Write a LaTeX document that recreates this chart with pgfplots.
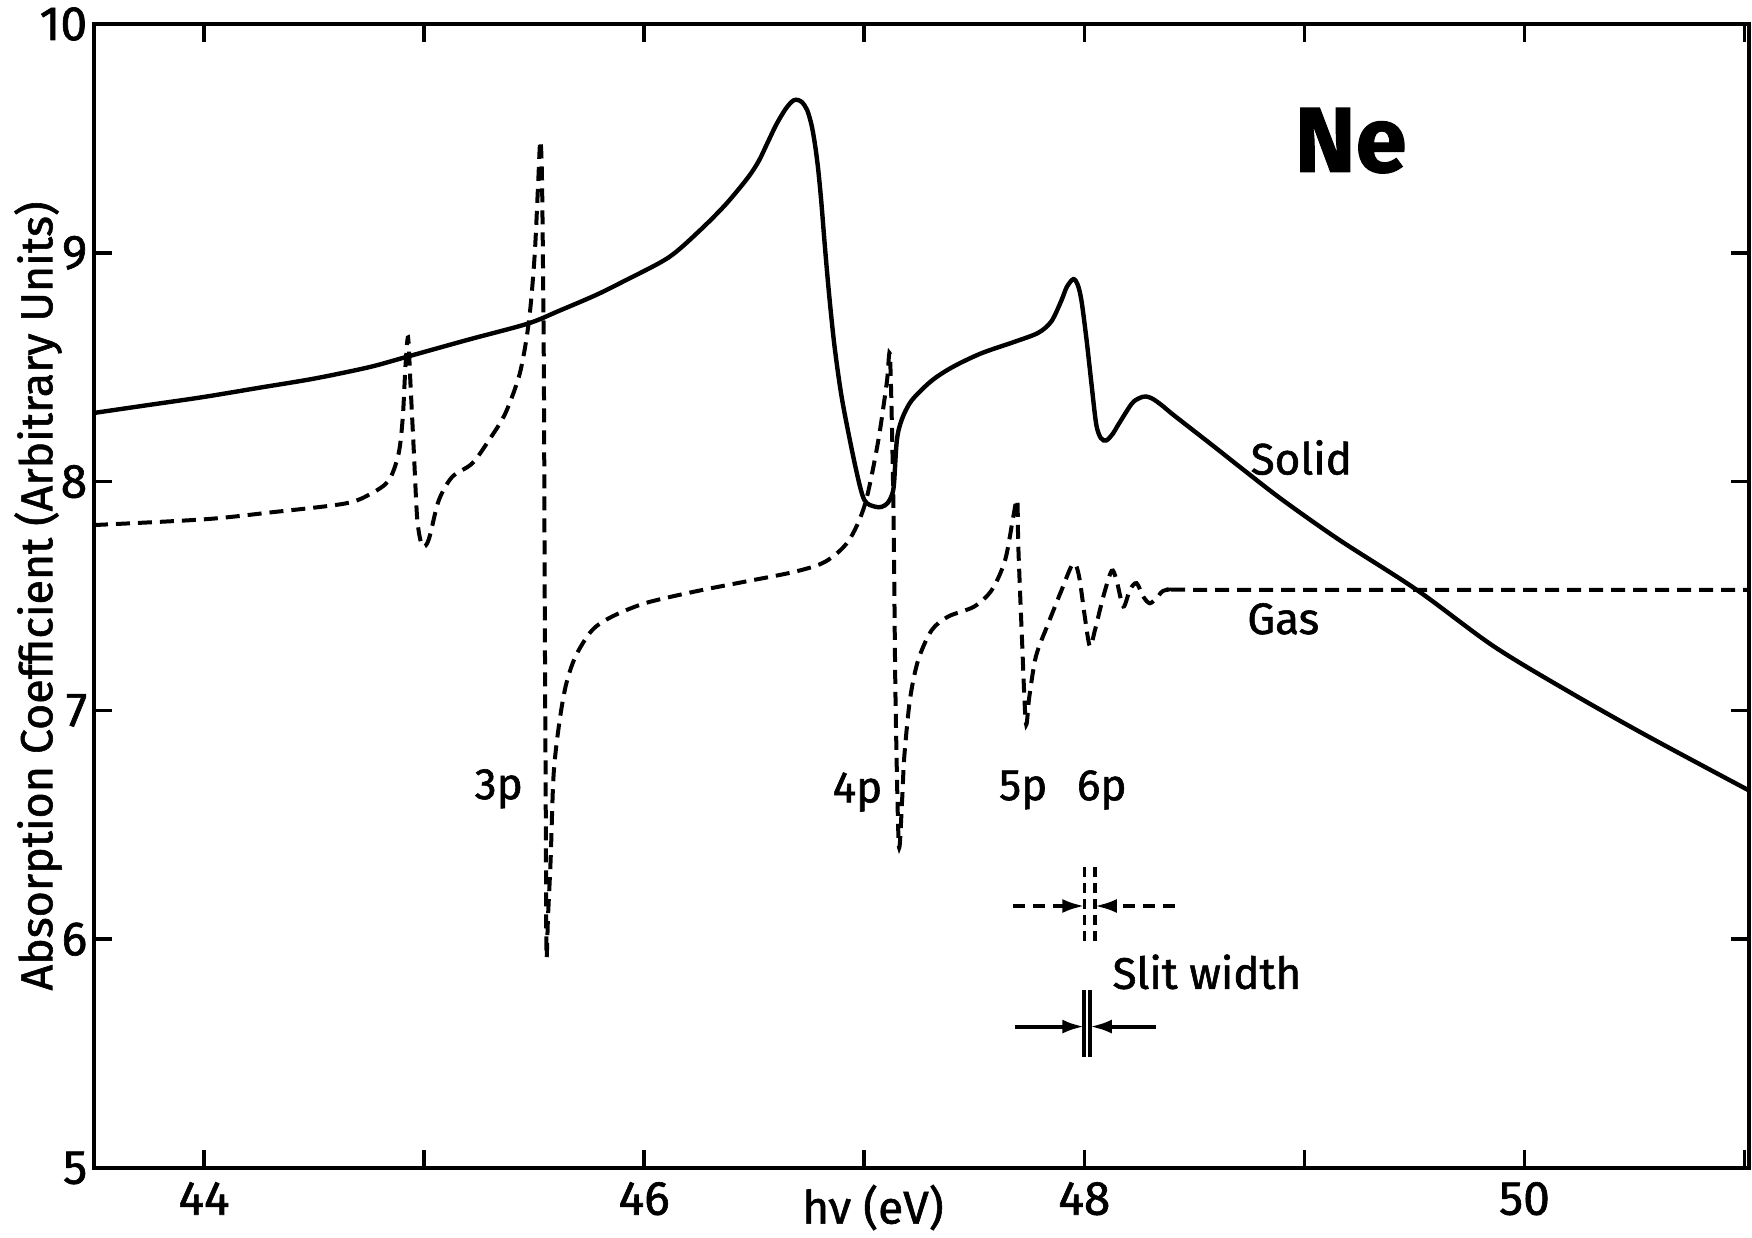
\documentclass[border=0pt]{standalone}
\usepackage{fontspec}
\setmainfont{Fira Sans}[FakeBold=1.3]
\usepackage{pgfplots}
\pgfplotsset{compat=1.18}
\usetikzlibrary{arrows.meta}

% Ne absorption: solid vs gas
\pgfplotstableread{
x y
43.50 8.30
43.75 8.335
44.00 8.37
44.25 8.41
44.50 8.45
44.75 8.50
44.92 8.545
45.20 8.62
45.47 8.69
45.61 8.745
45.78 8.815
45.91 8.877
46.11 8.979
46.25 9.095
46.37 9.211
46.47 9.327
46.52 9.40
46.56 9.48
46.60 9.56
46.64 9.625
46.67 9.66
46.69 9.669
46.715 9.66
46.74 9.625
46.76 9.56
46.775 9.48
46.79 9.37
46.805 9.22
46.82 9.04
46.84 8.82
46.865 8.59
46.90 8.354
46.96 8.064
47.00 7.92
47.05 7.89
47.08 7.89
47.105 7.905
47.125 7.94
47.135 7.99
47.148 8.18
47.17 8.27
47.215 8.354
47.305 8.44
47.40 8.50
47.53 8.56
47.68 8.61
47.79 8.65
47.85 8.70
47.895 8.79
47.92 8.85
47.95 8.885
47.97 8.86
47.987 8.79
48.01 8.62
48.032 8.43
48.054 8.25
48.075 8.19
48.10 8.18
48.13 8.21
48.155 8.25
48.215 8.34
48.25 8.365
48.28 8.372
48.31 8.362
48.35 8.335
48.40 8.295
48.50 8.22
48.60 8.145
48.725 8.05
48.90 7.92
49.16 7.744
49.51 7.527
49.86 7.28
50.21 7.077
50.56 6.887
51.02 6.65
}\solid

\pgfplotstableread{
x y
43.50 7.81
44.00 7.835
44.30 7.865
44.64 7.904
44.76 7.948
44.84 8.006
44.884 8.122
44.903 8.28
44.915 8.50
44.927 8.63
44.938 8.427
44.953 8.137
44.968 7.846
44.984 7.74
44.998 7.715
45.014 7.73
45.029 7.774
45.067 7.919
45.127 8.02
45.218 8.079
45.294 8.18
45.368 8.296
45.43 8.456
45.461 8.60
45.483 8.76
45.503 9.0
45.518 9.3
45.528 9.49
45.536 9.3
45.544 8.5
45.548 7.5
45.553 6.5
45.556 5.93
45.563 6.1
45.575 6.35
45.588 6.713
45.612 6.93
45.643 7.105
45.688 7.236
45.763 7.35
45.854 7.41
46.006 7.469
46.233 7.52
46.46 7.563
46.684 7.606
46.823 7.65
46.928 7.74
47.003 7.90
47.062 8.17
47.102 8.43
47.117 8.543
47.132 7.92
47.142 7.05
47.157 6.41
47.172 6.61
47.182 6.8
47.208 7.05
47.245 7.22
47.306 7.35
47.381 7.41
47.50 7.454
47.58 7.527
47.64 7.657
47.677 7.846
47.695 7.92
47.70 7.715
47.715 7.35
47.734 6.946
47.75 7.06
47.78 7.236
47.836 7.38
47.897 7.527
47.941 7.63
47.961 7.636
47.979 7.57
48.002 7.41
48.025 7.28
48.048 7.35
48.086 7.497
48.124 7.61
48.146 7.57
48.177 7.454
48.207 7.527
48.237 7.556
48.268 7.497
48.298 7.468
48.335 7.497
48.378 7.527
48.60 7.527
51.02 7.527
}\gas

\begin{document}
\begin{tikzpicture}
\begin{axis}[
    name=ax,
    width=413.75pt, height=286pt, scale only axis,
    xmin=43.5, xmax=51.02,
    ymin=5, ymax=10,
    xtick={44,...,51},
    xticklabels={44,,46,,48,,50,},
    ytick={5,...,10},
    tick align=inside,
    major tick length=4.5pt,
    tick style={line width=0.9pt, black},
    axis line style={line width=1pt},
    /pgf/number format/assume math mode=true,
    ticklabel style={font=\fontsize{12}{14}\selectfont},
    yticklabel style={inner sep=1.5pt},
    xlabel={hν (eV)},
    ylabel={Absorption Coefficient (Arbitrary Units)},
    every axis x label/.style={at={(axis description cs:0.4707,0)}, anchor=north,
        inner sep=0pt, yshift=-4pt, font=\fontsize{11.5}{13}\selectfont},
    every axis y label/.style={at={(axis description cs:-0.0338,0.5)}, anchor=center,
        rotate=90, inner sep=0pt, font=\fontsize{11.2}{13}\selectfont},
]

\addplot[black, line width=1.1pt, smooth, tension=0.5] table[x=x, y=y] {\solid};
\addplot[black, line width=1pt, dash pattern=on 3.5pt off 2pt, smooth, tension=0.5] table[x=x, y=y] {\gas};

\node[font=\fontsize{23}{26}\selectfont\bfseries] at (axis cs:49.21,9.49) {Ne};
\node[font=\fontsize{11}{13}\selectfont] at (axis cs:48.986,8.105) {Solid};
\node[font=\fontsize{11}{13}\selectfont] at (axis cs:48.904,7.40) {Gas};
\node[font=\fontsize{11}{13}\selectfont] at (axis cs:45.339,6.657) {3p};
\node[font=\fontsize{11}{13}\selectfont] at (axis cs:46.969,6.643) {4p};
\node[font=\fontsize{11}{13}\selectfont] at (axis cs:47.722,6.652) {5p};
\node[font=\fontsize{11}{13}\selectfont] at (axis cs:48.079,6.652) {6p};
\node[font=\fontsize{11}{13}\selectfont] at (axis cs:48.557,5.857) {Slit width};

% slit width markers
\draw[line width=0.9pt, dash pattern=on 2.5pt off 1.5pt] (axis cs:48.0,6.317) -- (axis cs:48.0,5.975);
\draw[line width=0.9pt, dash pattern=on 2.5pt off 1.5pt] (axis cs:48.048,6.317) -- (axis cs:48.048,5.975);
\draw[line width=0.9pt, dash pattern=on 3pt off 2pt, -{Latex[length=5.5pt,width=3.5pt]}] (axis cs:47.677,6.145) -- (axis cs:48.0,6.145);
\draw[line width=0.9pt, dash pattern=on 3pt off 2pt, -{Latex[length=5.5pt,width=3.5pt]}] (axis cs:48.411,6.145) -- (axis cs:48.048,6.145);
\draw[line width=1pt] (axis cs:48.0,5.778) -- (axis cs:48.0,5.486);
\draw[line width=1pt] (axis cs:48.025,5.778) -- (axis cs:48.025,5.486);
\draw[line width=1pt, -{Latex[length=5.5pt,width=3.5pt]}] (axis cs:47.685,5.618) -- (axis cs:48.0,5.618);
\draw[line width=1pt, -{Latex[length=5.5pt,width=3.5pt]}] (axis cs:48.327,5.618) -- (axis cs:48.025,5.618);
\end{axis}
\pgfresetboundingbox
\path[use as bounding box] ([xshift=-23.5pt,yshift=-17.5pt]ax.south west) rectangle ([xshift=0.75pt,yshift=6pt]ax.north east);
\end{tikzpicture}
\end{document}
